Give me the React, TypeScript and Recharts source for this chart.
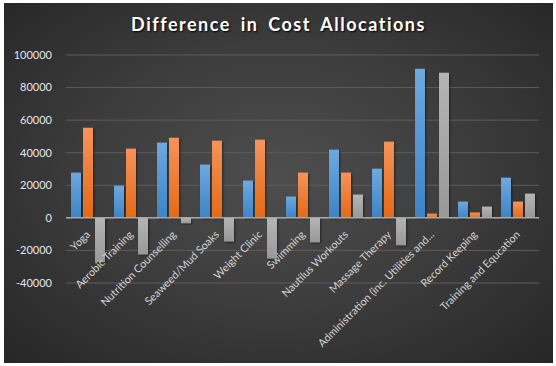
import { BarChart, Bar, XAxis, YAxis, CartesianGrid, ReferenceLine } from "recharts";

const categories = [
  "Yoga",
  "Aerobic Training",
  "Nutrition Counselling",
  "Seaweed/Mud Soaks",
  "Weight Clinic",
  "Swimming",
  "Nautilus Workouts",
  "Massage Therapy",
  "Administration (inc. Utilities and...",
  "Record Keeping",
  "Training and Equcation",
];

const seriesA = [27800, 19800, 46200, 32700, 22900, 13100, 41900, 30200, 91600, 10000, 24700];
const seriesB = [55400, 42500, 49200, 47400, 48000, 27800, 27800, 46800, 2600, 3300, 10000];
const seriesC = [-27200, -22500, -3300, -14500, -25000, -15000, 14300, -16800, 89100, 6900, 14900];

const yTicks = [-40000, -20000, 0, 20000, 40000, 60000, 80000, 100000];

const data = categories.map((name, i) => ({
  name,
  a: seriesA[i],
  b: seriesB[i],
  c: seriesC[i],
}));

const W = 549;
const H = 360;
const margin = { top: 52, right: 14, bottom: 0, left: 12 };
const xAxisHeight = 80;
const plotTop = margin.top;
const plotBottom = H - margin.bottom - xAxisHeight;
const zeroY = plotTop + ((plotBottom - plotTop) * 100000) / 140000;

function CatTick(props: any) {
  const { x, payload } = props;
  const tx = x - 2;
  const ty = zeroY + 12;
  return (
    <text
      x={tx}
      y={ty}
      transform={`rotate(-45, ${tx}, ${ty})`}
      textAnchor="end"
      dy="0.7em"
      fill="#d4d4d4"
      fontSize={10.8}
      fontFamily="Lato, 'Liberation Sans', sans-serif"
    >
      {payload.value}
    </text>
  );
}

export default function App() {
  return (
    <div style={{ position: "absolute", left: 0, top: 0, width: 556, height: 366, background: "#fff" }}>
      <div
        style={{
          position: "absolute",
          left: 4,
          top: 3,
          width: W,
          height: H,
          background: "radial-gradient(ellipse at 50% 48%, #4e4e4e 0%, #3c3c3c 50%, #262626 100%)",
        }}
      >
        <div
          style={{
            position: "absolute",
            top: 10,
            left: 0,
            width: W,
            textAlign: "center",
            color: "#fff",
            fontFamily: "Lato, 'Liberation Sans', sans-serif",
            fontWeight: 700,
            fontSize: 18,
            letterSpacing: 1.5,
            wordSpacing: 4,
            textShadow: "1px 1px 2px #000",
          }}
        >
          Difference in Cost Allocations
        </div>
        <BarChart width={W} height={H} data={data} margin={margin} barSize={10} barGap={2}>
          <defs>
            <linearGradient id="gA" x1="0" y1="0" x2="0" y2="1">
              <stop offset="0%" stopColor="#6fa8de" />
              <stop offset="100%" stopColor="#3d84c6" />
            </linearGradient>
            <linearGradient id="gB" x1="0" y1="0" x2="0" y2="1">
              <stop offset="0%" stopColor="#f5935c" />
              <stop offset="100%" stopColor="#e46a16" />
            </linearGradient>
            <linearGradient id="gC" x1="0" y1="0" x2="0" y2="1">
              <stop offset="0%" stopColor="#b5b5b5" />
              <stop offset="100%" stopColor="#989898" />
            </linearGradient>
            <filter id="sh" x="-50%" y="-10%" width="200%" height="130%">
              <feDropShadow dx="1" dy="1" stdDeviation="1.2" floodColor="#000" floodOpacity="0.5" />
            </filter>
          </defs>
          <CartesianGrid vertical={false} stroke="#5c5c5c" strokeWidth={1} />
          <XAxis
            dataKey="name"
            interval={0}
            height={xAxisHeight}
            axisLine={false}
            tickLine={false}
            tick={<CatTick />}
          />
          <YAxis
            width={50}
            domain={[-40000, 100000]}
            ticks={yTicks}
            axisLine={false}
            tickLine={false}
            tickMargin={8}
            tick={{ fill: "#e2e6ee", fontSize: 11, fontFamily: "Lato, 'Liberation Sans', sans-serif" }}
          />
          <Bar dataKey="a" fill="url(#gA)" filter="url(#sh)" isAnimationActive={false} />
          <Bar dataKey="b" fill="url(#gB)" filter="url(#sh)" isAnimationActive={false} />
          <Bar dataKey="c" fill="url(#gC)" filter="url(#sh)" isAnimationActive={false} />
          <ReferenceLine y={0} stroke="#a8a8a8" strokeWidth={1.5} />
        </BarChart>
      </div>
    </div>
  );
}
